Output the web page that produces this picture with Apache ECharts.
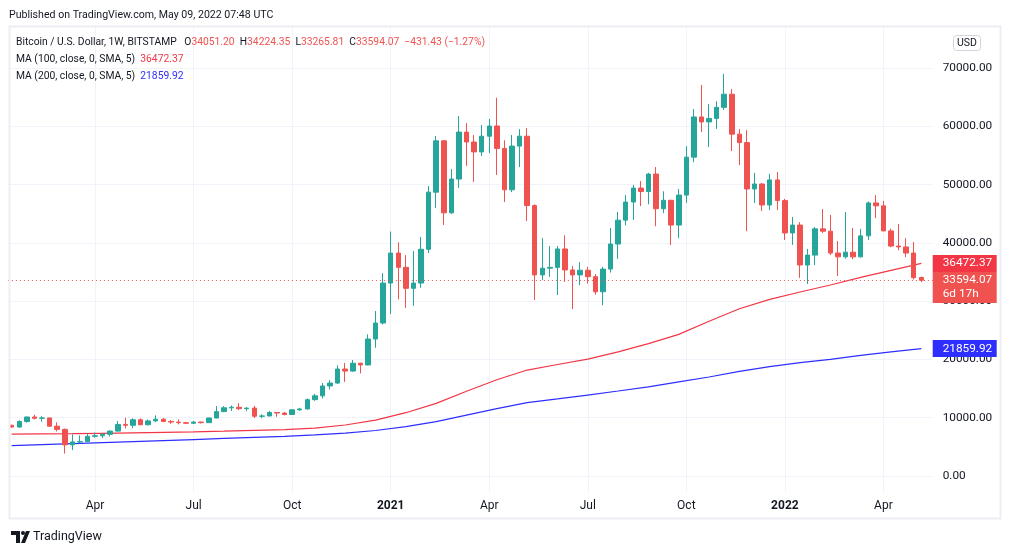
<!DOCTYPE html>
<html><head><meta charset="utf-8">
<script src="https://cdn.jsdelivr.net/npm/echarts@6/dist/echarts.min.js"></script>
<style>html,body{margin:0;padding:0;background:#fff}#c{width:1012px;height:555px}</style>
</head><body><div id="c"></div>
<script>
const categories = [
"2020-01-20","2020-01-27","2020-02-03","2020-02-10","2020-02-17","2020-02-24","2020-03-02","2020-03-09","2020-03-16","2020-03-23",
"2020-03-30","2020-04-06","2020-04-13","2020-04-20","2020-04-27","2020-05-04","2020-05-11","2020-05-18","2020-05-25","2020-06-01",
"2020-06-08","2020-06-15","2020-06-22","2020-06-29","2020-07-06","2020-07-13","2020-07-20","2020-07-27","2020-08-03","2020-08-10",
"2020-08-17","2020-08-24","2020-08-31","2020-09-07","2020-09-14","2020-09-21","2020-09-28","2020-10-05","2020-10-12","2020-10-19",
"2020-10-26","2020-11-02","2020-11-09","2020-11-16","2020-11-23","2020-11-30","2020-12-07","2020-12-14","2020-12-21","2020-12-28",
"2021-01-04","2021-01-11","2021-01-18","2021-01-25","2021-02-01","2021-02-08","2021-02-15","2021-02-22","2021-03-01","2021-03-08",
"2021-03-15","2021-03-22","2021-03-29","2021-04-05","2021-04-12","2021-04-19","2021-04-26","2021-05-03","2021-05-10","2021-05-17",
"2021-05-24","2021-05-31","2021-06-07","2021-06-14","2021-06-21","2021-06-28","2021-07-05","2021-07-12","2021-07-19","2021-07-26",
"2021-08-02","2021-08-09","2021-08-16","2021-08-23","2021-08-30","2021-09-06","2021-09-13","2021-09-20","2021-09-27","2021-10-04",
"2021-10-11","2021-10-18","2021-10-25","2021-11-01","2021-11-08","2021-11-15","2021-11-22","2021-11-29","2021-12-06","2021-12-13",
"2021-12-20","2021-12-27","2022-01-03","2022-01-10","2022-01-17","2022-01-24","2022-01-31","2022-02-07","2022-02-14","2022-02-21",
"2022-02-28","2022-03-07","2022-03-14","2022-03-21","2022-03-28","2022-04-04","2022-04-11","2022-04-18","2022-04-25","2022-05-02",
"2022-05-09"];
const emptyCategories = ["2022-05-16"];

const opens = [
8700,8400,9350,10120,9900,9960,8550,8000,5350,5850,
5900,6800,6900,7150,7700,8850,8700,9650,8800,9450,
9750,9350,9250,9150,9050,9250,9150,9950,11050,11700,
11800,11550,11650,10250,10300,10900,10800,10550,11350,11500,
13100,13750,15450,15950,18350,18000,19350,19050,23500,26250,
33100,38250,35800,32200,33100,38900,48700,57500,45150,50950,
59000,57300,55600,58300,60050,56200,49100,56600,58300,46400,
34500,35650,35800,38950,35350,34500,35300,34200,31600,35500,
39800,43900,47000,49400,48800,51800,45850,47300,43050,48200,
54700,61600,60750,61350,63250,65500,58650,57200,49250,50100,
46500,50800,47250,41700,43050,36200,37900,42400,42000,38250,
37600,38400,37600,41200,46850,46350,42050,39450,39300,38250,
34051.20];
const closes = [
8400,9350,10120,9900,9960,8550,8000,5350,5850,5900,
6800,6900,7150,7700,8850,8700,9650,8800,9450,9750,
9350,9250,9150,9050,9250,9150,9950,11050,11700,11800,
11550,11650,10250,10300,10900,10800,10550,11350,11500,13100,
13750,15450,15950,18350,18000,19350,19050,23500,26250,33100,
38250,35800,32200,33100,38900,48700,57500,45150,50950,59000,
57300,55600,58300,60050,56200,49100,56600,58300,46400,34500,
35650,35800,38950,35350,34500,35300,34200,31600,35500,39800,
43900,47000,49400,48800,51800,45850,47300,43050,48200,54700,
61600,60750,61350,63250,65500,58650,57200,49250,50100,46500,
50800,47250,41700,43050,36200,37900,42400,42000,38250,37600,
38400,37600,41200,46850,46350,42050,39450,39300,38250,34025.50,
33594.07];
const lows = [
8250,8280,9150,9700,9300,8400,7650,3850,4450,5650,
5850,6600,6500,6800,7650,8150,8200,8700,8650,9250,
9250,8950,8850,8900,9000,9000,9100,9900,10950,11150,
11300,11100,9950,9900,10250,10150,10400,10550,11200,11400,
12900,13300,14850,15800,16150,17900,17600,19000,22000,26000,
27800,30300,28850,29200,32300,38250,46000,43050,44950,49400,
53200,50450,54900,55400,51650,47000,48700,53000,43750,30200,
33600,34150,31050,33300,28650,32750,33000,31100,29300,34900,
37250,43000,43950,46300,46600,42850,45100,39650,40800,46850,
53850,59000,56450,59550,62800,55750,53350,42000,46850,45450,
45650,45650,40500,39650,34000,32950,36200,41700,37900,34300,
37300,37200,37500,40500,44250,42000,39250,38750,37550,33700,
33265.81];
const highs = [
8800,9550,10200,10500,10250,10000,9200,8150,7150,6950,
7250,7450,7300,7800,9450,10000,9900,9900,9700,10400,
9950,9600,9700,9300,9450,9350,10000,12000,12000,12100,
12500,11800,12050,10600,11150,10950,10950,11500,11700,13300,
14100,15950,16450,19000,19400,19900,19450,24300,28300,34800,
41950,40100,37900,38600,41000,49750,58350,57650,52650,61750,
60550,58500,60200,61250,64900,57600,58500,59500,59700,46600,
40800,39450,39450,41300,36000,36700,35900,34650,35900,42550,
45300,48200,49950,50600,52000,53000,48850,47400,49250,56600,
62950,67100,63800,64300,69000,66400,59500,59350,52000,50250,
51800,52150,47550,44450,43550,38950,42700,45800,44800,40300,
45300,42550,42400,47100,48200,47200,42450,43250,40800,40150,
34224.35];

// moving averages every 4th week (candle index)
const maIndex = [0,4,8,12,16,20,24,28,32,36,40,44,48,52,56,60,64,68,72,76,80,84,88,92,96,100,104,108,112,116,120];
const ma100 = [7200,7240,7280,7330,7410,7500,7580,7690,7820,7950,8200,8750,9600,10860,12470,14530,16520,18180,19130,20060,21290,22700,24300,26540,28700,30310,31570,32770,34090,35290,36472.37];
const ma200 = [5210,5390,5560,5730,5900,6070,6250,6440,6620,6810,7060,7360,7810,8470,9330,10430,11550,12580,13220,13890,14580,15300,16150,16980,17950,18760,19440,20000,20700,21280,21859.92];

const timeTickDates = ["2020-04-06","2020-07-06","2020-10-05","2021-01-04","2021-04-05","2021-07-05","2021-10-04","2022-01-03","2022-04-04"];
const timeTickTexts = ["Apr","Jul","Oct","2021","Apr","Jul","Oct","2022","Apr"];
const priceMin = 0, priceMax = 70000, priceStep = 10000;
const countdown = "6d 17h";

const FONT = "Roboto, sans-serif";
const UP = '#26a69a', DOWN = '#ef5350', MA100C = '#f23645', MA200C = '#2e2eff';

const allCats = categories.concat(emptyCategories);
const candleData = categories.map((c, i) => [opens[i], closes[i], lows[i], highs[i]]);
const ma100Data = maIndex.map((k, j) => [categories[k], ma100[j]]);
const ma200Data = maIndex.map((k, j) => [categories[k], ma200[j]]);
const tickMap = {};
timeTickDates.forEach((d, i) => tickMap[d] = timeTickTexts[i]);
const isTick = (i, v) => Object.prototype.hasOwnProperty.call(tickMap, v);

const n = categories.length - 1;
const lastO = opens[n], lastH = highs[n], lastL = lows[n], lastC = closes[n];
const chg = lastC - closes[n - 1];
const pct = chg / closes[n - 1] * 100;
const fmt = v => v.toFixed(2);
const neg = s => s.replace('-', '\u2212');
const AX = 11.8;   // axis font size
const LG = 10.3;   // legend font size

const boxLabel = (text, bg, lh, pad, off) => ({
  show: true, position: 'end', distance: 0, offset: off || [0, 0],
  formatter: () => text, backgroundColor: bg, color: '#ffffff', fontSize: AX, fontFamily: FONT,
  lineHeight: lh, padding: pad, align: 'left', width: 47
});

const chart = echarts.init(document.getElementById('c'));
chart.setOption({
  animation: false,
  backgroundColor: '#ffffff',
  textStyle: { fontFamily: FONT },
  grid: [
    { left: 7.9, right: 79.3, top: 68, bottom: 79 },
    { left: 11.7, right: 83.1, top: 27, bottom: 63 }
  ],
  xAxis: [
    { type: 'category', gridIndex: 0, data: allCats, boundaryGap: true,
      axisLabel: { show: false }, axisTick: { show: false }, axisLine: { show: false }, splitLine: { show: false } },
    { type: 'category', gridIndex: 1, data: allCats, boundaryGap: false,
      axisLine: { show: false }, axisTick: { show: false },
      splitLine: { show: true, interval: isTick, lineStyle: { color: '#f0f3fa', width: 1 } },
      axisLabel: { interval: isTick, margin: 8, fontSize: 12, fontFamily: FONT, color: '#131722',
        formatter: v => { const t = tickMap[v] || ''; return /^\d{4}$/.test(t) ? '{b|' + t + '}' : t; },
        rich: { b: { fontWeight: 'bold', fontSize: 12, fontFamily: FONT, color: '#131722' } } } }
  ],
  yAxis: [
    { type: 'value', gridIndex: 0, position: 'right', min: priceMin, max: priceMax, interval: priceStep,
      axisLine: { show: false }, axisTick: { show: false },
      splitLine: { lineStyle: { color: '#f0f3fa', width: 1 } },
      axisLabel: { margin: 10, align: 'left', fontSize: AX, fontFamily: FONT, color: '#131722', formatter: v => v.toFixed(2) } },
    { type: 'value', gridIndex: 1, min: 0, max: 1, show: false }
  ],
  series: [
    { type: 'candlestick', xAxisIndex: 0, yAxisIndex: 0, data: candleData, barWidth: 5, z: 3,
      itemStyle: { color: UP, color0: DOWN, borderColor: UP, borderColor0: DOWN, borderWidth: 1 },
      markLine: { silent: true, symbol: ['none', 'none'], animation: false,
        data: [{ yAxis: lastC }],
        lineStyle: { type: [1, 3], color: DOWN, width: 1 },
        label: boxLabel(fmt(lastC) + '\n' + countdown, '#f0524f', 14, [2, 7, 1, 10], [0, 7.3]) } },
    { type: 'line', name: 'MA100', xAxisIndex: 0, yAxisIndex: 0, data: ma100Data, symbol: 'none', smooth: false, z: 2,
      lineStyle: { color: MA100C, width: 1.2 },
      markLine: { silent: true, symbol: ['none', 'none'], animation: false,
        data: [{ yAxis: ma100[ma100.length - 1] }],
        lineStyle: { color: 'rgba(0,0,0,0)', width: 1 },
        label: boxLabel(fmt(ma100[ma100.length - 1]), MA100C, 13, [2, 7, 2, 10]) } },
    { type: 'line', name: 'MA200', xAxisIndex: 0, yAxisIndex: 0, data: ma200Data, symbol: 'none', smooth: false, z: 2,
      lineStyle: { color: MA200C, width: 1.2 },
      markLine: { silent: true, symbol: ['none', 'none'], animation: false,
        data: [{ yAxis: ma200[ma200.length - 1] }],
        lineStyle: { color: 'rgba(0,0,0,0)', width: 1 },
        label: boxLabel(fmt(ma200[ma200.length - 1]), MA200C, 13, [2, 7, 2, 10]) } }
  ],
  graphic: [
    { type: 'rect', z: 100, silent: true, shape: { x: 9.5, y: 26.5, width: 991, height: 492 },
      style: { fill: null, stroke: '#eceef3', lineWidth: 2 } },
    { type: 'text', z: 100, style: { x: 9, y: 15, text: 'Published on TradingView.com, May 09, 2022 07:48 UTC',
      fontSize: 10.6, fontFamily: FONT, fill: '#131722', verticalAlign: 'middle' } },
    { type: 'text', z: 100, style: { x: 16, y: 42.5, fontSize: LG, fontFamily: FONT, fill: '#131722', verticalAlign: 'middle',
      text: 'Bitcoin / U.S. Dollar, 1W, BITSTAMP   O{r|' + fmt(lastO) + '}  H{r|' + fmt(lastH) + '}  L{r|' + fmt(lastL) +
            '}  C{r|' + fmt(lastC) + '}  {r|' + neg(fmt(chg)) + ' (' + neg(pct.toFixed(2)) + '%)}',
      rich: { r: { fill: DOWN, fontSize: LG, fontFamily: FONT } } } },
    { type: 'text', z: 100, style: { x: 16, y: 59.5, fontSize: LG, fontFamily: FONT, fill: '#131722', verticalAlign: 'middle',
      text: 'MA (100, close, 0, SMA, 5)  {r|' + fmt(ma100[ma100.length - 1]) + '}',
      rich: { r: { fill: MA100C, fontSize: LG, fontFamily: FONT } } } },
    { type: 'text', z: 100, style: { x: 16, y: 76, fontSize: LG, fontFamily: FONT, fill: '#131722', verticalAlign: 'middle',
      text: 'MA (200, close, 0, SMA, 5)  {r|' + fmt(ma200[ma200.length - 1]) + '}',
      rich: { r: { fill: MA200C, fontSize: LG, fontFamily: FONT } } } },
    { type: 'rect', z: 100, shape: { x: 953.5, y: 35.5, width: 27, height: 15, r: 3 },
      style: { fill: '#ffffff', stroke: '#d1d4dc', lineWidth: 1 } },
    { type: 'text', z: 101, style: { x: 967, y: 43.5, text: 'USD', fontSize: 10.5, fontFamily: FONT, fill: '#131722',
      align: 'center', verticalAlign: 'middle' } },
    { type: 'polygon', z: 100, shape: { points: [[11,531],[20,531],[20,543],[16,543],[16,535],[11,535]] }, style: { fill: '#131722' } },
    { type: 'circle', z: 100, shape: { cx: 23, cy: 533, r: 2 }, style: { fill: '#131722' } },
    { type: 'polygon', z: 100, shape: { points: [[26,531],[30,531],[25,543],[21,543]] }, style: { fill: '#131722' } },
    { type: 'text', z: 100, style: { x: 33, y: 537, text: 'TradingView', fontSize: 12.5, fontFamily: FONT, fill: '#131722',
      verticalAlign: 'middle' } }
  ]
});
</script></body></html>
